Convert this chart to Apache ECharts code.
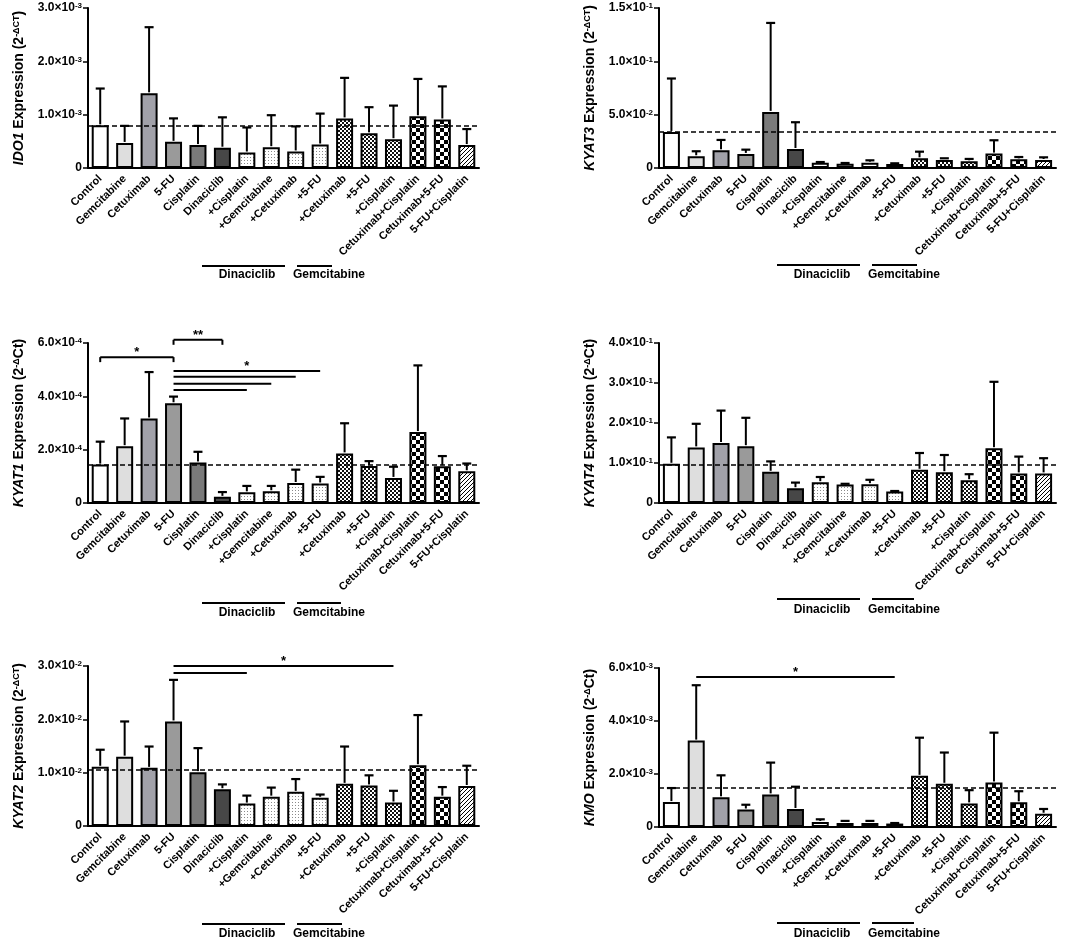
<!DOCTYPE html>
<html><head><meta charset="utf-8">
<script src="https://cdn.jsdelivr.net/npm/echarts@6/dist/echarts.min.js"></script>
<style>html,body{margin:0;padding:0;background:#fff}#c{width:1078px;height:941px}</style>
</head><body><div id="c"></div>
<script>
// ---------- data ----------
const categories = ['Control','Gemcitabine','Cetuximab','5-FU','Cisplatin','Dinaciclib','+Cisplatin','+Gemcitabine','+Cetuximab','+5-FU','+Cetuximab','+5-FU','+Cisplatin','Cetuximab+Cisplatin','Cetuximab+5-FU','5-FU+Cisplatin'];

const ido1Mean = [0.80e-3,0.47e-3,1.40e-3,0.49e-3,0.43e-3,0.38e-3,0.29e-3,0.39e-3,0.31e-3,0.44e-3,0.93e-3,0.65e-3,0.54e-3,0.97e-3,0.91e-3,0.43e-3];
const ido1Sd   = [0.69e-3,0.32e-3,1.24e-3,0.44e-3,0.36e-3,0.57e-3,0.47e-3,0.60e-3,0.47e-3,0.58e-3,0.76e-3,0.49e-3,0.63e-3,0.70e-3,0.62e-3,0.30e-3];

const kyat3Mean = [3.38e-2,1.10e-2,1.66e-2,1.32e-2,5.26e-2,1.78e-2,0.50e-2,0.41e-2,0.50e-2,0.38e-2,0.91e-2,0.75e-2,0.63e-2,1.35e-2,0.81e-2,0.75e-2];
const kyat3Sd   = [5.01e-2,0.47e-2,0.97e-2,0.40e-2,8.34e-2,2.51e-2,0.06e-2,0.06e-2,0.22e-2,0.06e-2,0.62e-2,0.16e-2,0.22e-2,1.25e-2,0.22e-2,0.25e-2];

const kyat1Mean = [1.44e-4,2.13e-4,3.17e-4,3.74e-4,1.52e-4,0.23e-4,0.40e-4,0.44e-4,0.75e-4,0.73e-4,1.86e-4,1.39e-4,0.94e-4,2.66e-4,1.38e-4,1.19e-4];
const kyat1Sd   = [0.86e-4,1.04e-4,1.74e-4,0.25e-4,0.40e-4,0.18e-4,0.24e-4,0.20e-4,0.50e-4,0.25e-4,1.13e-4,0.18e-4,0.42e-4,2.50e-4,0.38e-4,0.29e-4];

const kyat4Mean = [0.98e-1,1.39e-1,1.50e-1,1.42e-1,0.78e-1,0.37e-1,0.52e-1,0.46e-1,0.47e-1,0.29e-1,0.83e-1,0.77e-1,0.57e-1,1.37e-1,0.74e-1,0.74e-1];
const kyat4Sd   = [0.66e-1,0.59e-1,0.81e-1,0.71e-1,0.26e-1,0.14e-1,0.13e-1,0.02e-1,0.11e-1,0.01e-1,0.42e-1,0.43e-1,0.15e-1,1.66e-1,0.42e-1,0.38e-1];

const kyat2Mean = [1.11e-2,1.30e-2,1.09e-2,1.96e-2,1.01e-2,0.69e-2,0.42e-2,0.55e-2,0.64e-2,0.53e-2,0.79e-2,0.76e-2,0.44e-2,1.14e-2,0.55e-2,0.75e-2];
const kyat2Sd   = [0.32e-2,0.66e-2,0.40e-2,0.78e-2,0.45e-2,0.09e-2,0.15e-2,0.17e-2,0.24e-2,0.06e-2,0.70e-2,0.19e-2,0.22e-2,0.94e-2,0.18e-2,0.38e-2];

const kmoMean = [0.94e-3,3.26e-3,1.12e-3,0.66e-3,1.23e-3,0.68e-3,0.19e-3,0.15e-3,0.15e-3,0.13e-3,1.93e-3,1.63e-3,0.89e-3,1.68e-3,0.93e-3,0.50e-3];
const kmoSd   = [0.53e-3,2.09e-3,0.83e-3,0.18e-3,1.20e-3,0.84e-3,0.10e-3,0.08e-3,0.08e-3,0.02e-3,1.44e-3,1.18e-3,0.50e-3,1.88e-3,0.42e-3,0.18e-3];

// dashed reference levels
const refLevels = [0.80e-3, 3.38e-2, 1.44e-4, 0.96e-1, 1.06e-2, 1.48e-3];
// y axis max / tick step
const yMax  = [3e-3, 0.15, 6e-4, 0.4, 3e-2, 6e-3];
const yStep = [1e-3, 0.05, 2e-4, 0.1, 1e-2, 2e-3];
// significance comparisons: [fromIdx, toIdx, level, label, bracket]
const kyat1Sig = [[0,3,5.47e-4,'*',1],[3,5,6.12e-4,'**',1],[3,9,4.95e-4,'*',0],[3,8,4.73e-4,'',0],[3,7,4.47e-4,'',0],[3,6,4.24e-4,'',0]];
const kyat2Sig = [[3,12,3.0e-2,'*',0],[3,6,2.87e-2,'',0]];
const kmoSig   = [[1,9,5.66e-3,'*',0]];
// group labels under the category labels
const groupNames = ['Dinaciclib', 'Gemcitabine'];

// ---------- styling ----------
const FONT = '"Liberation Sans", Arial, sans-serif';
function pat(size, draw){ const c=document.createElement('canvas'); c.width=size;c.height=size; const x=c.getContext('2d'); x.fillStyle='#fff'; x.fillRect(0,0,size,size); draw(x); return {image:c, repeat:'repeat'}; }
const dots = pat(3, x=>{x.fillStyle='#8a8a8a'; x.fillRect(1,1,1,1);});
const fineCheck = pat(4, x=>{x.fillStyle='#111'; x.fillRect(0,0,2,2); x.fillRect(2,2,2,2);});
const bigCheck = pat(8, x=>{x.fillStyle='#000'; x.fillRect(0,0,4,4); x.fillRect(4,4,4,4);});
const hatch = pat(4, x=>{x.strokeStyle='#000'; x.lineWidth=1; x.beginPath(); x.moveTo(-1,5); x.lineTo(5,-1); x.moveTo(3,5); x.lineTo(5,3); x.moveTo(-1,1); x.lineTo(1,-1); x.stroke();});
const fills = ['#ffffff','#dedede','#a1a1a9','#9a9a9a','#7a7a7a','#474747',dots,dots,dots,dots,fineCheck,fineCheck,fineCheck,bigCheck,bigCheck,hatch];

const panels = [
  {mean:ido1Mean, sd:ido1Sd, gene:'IDO1', sup:'-ΔCT', tail:'', sig:[]},
  {mean:kyat3Mean, sd:kyat3Sd, gene:'KYAT3', sup:'-ΔCT', tail:'', sig:[]},
  {mean:kyat1Mean, sd:kyat1Sd, gene:'KYAT1', sup:'-Δ', tail:'Ct', sig:kyat1Sig},
  {mean:kyat4Mean, sd:kyat4Sd, gene:'KYAT4', sup:'-Δ', tail:'Ct', sig:[]},
  {mean:kyat2Mean, sd:kyat2Sd, gene:'KYAT2', sup:'-ΔCT', tail:'', sig:kyat2Sig},
  {mean:kmoMean, sd:kmoSd, gene:'KMO', sup:'-Δ', tail:'Ct', sig:kmoSig}
];
const gridPos = [
  {left:88, top:8, width:391, height:160},
  {left:659, top:8, width:397, height:160},
  {left:88, top:343, width:391, height:160},
  {left:659, top:343, width:397, height:160},
  {left:88, top:666, width:391, height:160},
  {left:659, top:668, width:397, height:159}
];

function fmtTick(v){
  if (Math.abs(v) < 1e-15) return '{m|0}';
  const e = Math.floor(Math.log10(v) + 1e-9);
  const m = (v / Math.pow(10, e)).toFixed(1);
  return '{m|' + m + '×10}{e|' + e + '}';
}

const grids=[], xAxes=[], yAxes=[], series=[];
panels.forEach((p, g) => {
  grids.push(Object.assign({}, gridPos[g]));
  xAxes.push({type:'category', gridIndex:g, data:categories,
    axisLine:{lineStyle:{color:'#000', width:2}},
    axisTick:{alignWithLabel:true, length:4, lineStyle:{color:'#000', width:1.5}},
    axisLabel:{interval:0, rotate:45, margin:9, color:'#000', fontFamily:FONT, fontWeight:'bold', fontSize:11}
  });
  yAxes.push({type:'value', gridIndex:g, min:0, max:yMax[g], interval:yStep[g],
    axisLine:{show:true, lineStyle:{color:'#000', width:2}},
    axisTick:{show:true, length:5, lineStyle:{color:'#000', width:1.5}},
    splitLine:{show:false},
    axisLabel:{formatter:fmtTick, margin:6, rich:{
      m:{fontFamily:FONT, fontWeight:'bold', fontSize:12, color:'#000'},
      e:{fontFamily:FONT, fontWeight:'bold', fontSize:8, color:'#000', verticalAlign:'top'}}},
    name:'{i|' + p.gene + '}{n| Expression (2}{s|' + p.sup + '}{n|' + p.tail + ')}',
    nameLocation:'middle', nameRotate:90, nameGap:62,
    nameTextStyle:{rich:{
      i:{fontFamily:FONT, fontWeight:'bold', fontStyle:'italic', fontSize:14, color:'#000'},
      n:{fontFamily:FONT, fontWeight:'bold', fontSize:14, color:'#000'},
      s:{fontFamily:FONT, fontWeight:'bold', fontSize:9, color:'#000', verticalAlign:'top'}}}
  });
  series.push({type:'bar', xAxisIndex:g, yAxisIndex:g, barWidth:17,
    data:p.mean.map((v,i)=>({value:v, itemStyle:{color:fills[i]}})),
    itemStyle:{borderColor:'#000', borderWidth:2},
    emphasis:{disabled:true}, animation:false,
    markLine:{silent:true, precision:12, symbol:['none','none'], label:{show:false},
      lineStyle:{color:'#000', width:1.6, type:[5,3]},
      data:[{yAxis:refLevels[g]}]}
  });
  series.push({type:'custom', xAxisIndex:g, yAxisIndex:g, animation:false, z:3,
    encode:{x:0, y:[1,2]},
    data:p.mean.map((v,i)=>[i, v, v + p.sd[i]]),
    renderItem:(params, api)=>{
      const a = api.coord([api.value(0), api.value(1)]);
      const b = api.coord([api.value(0), api.value(2)]);
      const w = 9;
      return {type:'group', children:[
        {type:'line', shape:{x1:a[0], y1:a[1]-1, x2:b[0], y2:b[1]}, style:{stroke:'#000', lineWidth:2}},
        {type:'line', shape:{x1:b[0]-w/2, y1:b[1], x2:b[0]+w/2, y2:b[1]}, style:{stroke:'#000', lineWidth:2.2}}
      ]};
    }
  });
  if (p.sig.length) {
    const sigs = p.sig;
    series.push({type:'custom', xAxisIndex:g, yAxisIndex:g, animation:false, z:4, clip:false,
      encode:{x:[0,1], y:2},
      data:sigs.map(s=>[s[0], s[1], s[2]]),
      renderItem:(params, api)=>{
        const s = sigs[params.dataIndex];
        const a = api.coord([s[0], s[2]]);
        const b = api.coord([s[1], s[2]]);
        const ch = [{type:'line', shape:{x1:a[0], y1:a[1], x2:b[0], y2:b[1]}, style:{stroke:'#000', lineWidth:2}}];
        if (s[4]) {
          ch.push({type:'line', shape:{x1:a[0], y1:a[1], x2:a[0], y2:a[1]+5}, style:{stroke:'#000', lineWidth:2}});
          ch.push({type:'line', shape:{x1:b[0], y1:b[1], x2:b[0], y2:b[1]+5}, style:{stroke:'#000', lineWidth:2}});
        }
        if (s[3]) {
          ch.push({type:'text', style:{text:s[3], x:(a[0]+b[0])/2, y:a[1]+2, textAlign:'center', textVerticalAlign:'bottom',
            font:'bold 13px ' + FONT, fill:'#000'}});
        }
        return {type:'group', children:ch};
      }
    });
  }
});

// group underline labels below the rotated category labels (pixel layout)
const groupRows = [
  {dx:0, line:266, text:275, gemEnd:332}, {dx:575, line:265, text:275, gemEnd:342},
  {dx:0, line:603, text:613, gemEnd:341}, {dx:575, line:599, text:610, gemEnd:339},
  {dx:0, line:924, text:934, gemEnd:342}, {dx:575, line:923, text:934, gemEnd:339}
];
const graphic = [];
groupRows.forEach(r => {
  graphic.push({type:'line', shape:{x1:202 + r.dx, y1:r.line, x2:285 + r.dx, y2:r.line}, style:{stroke:'#000', lineWidth:2}});
  graphic.push({type:'line', shape:{x1:297 + r.dx, y1:r.line, x2:r.gemEnd + r.dx, y2:r.line}, style:{stroke:'#000', lineWidth:2}});
  graphic.push({type:'text', style:{text:groupNames[0], x:247 + r.dx, y:r.text, textAlign:'center', textVerticalAlign:'middle', font:'bold 12px ' + FONT, fill:'#000'}});
  graphic.push({type:'text', style:{text:groupNames[1], x:293 + r.dx, y:r.text, textAlign:'left', textVerticalAlign:'middle', font:'bold 12px ' + FONT, fill:'#000'}});
});

const chart = echarts.init(document.getElementById('c'), null, {renderer:'canvas'});
chart.setOption({
  backgroundColor:'#fff', animation:false,
  grid:grids, xAxis:xAxes, yAxis:yAxes, series:series, graphic:graphic
});
</script>
</body></html>
